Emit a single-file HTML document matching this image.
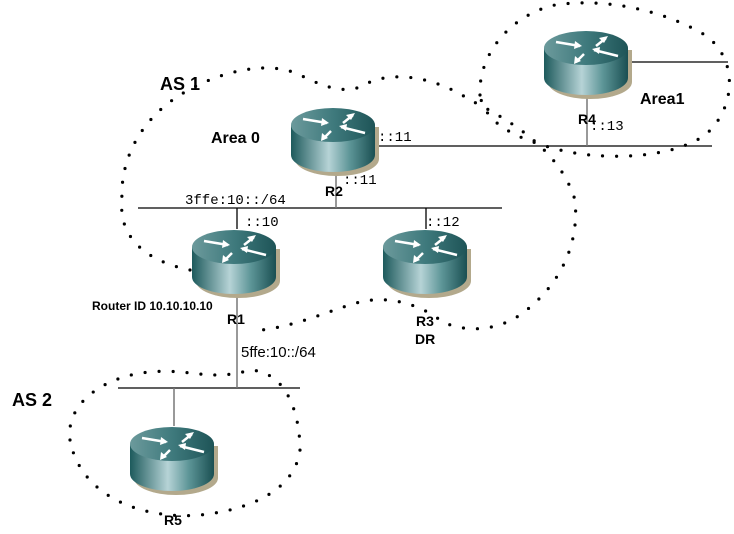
<!DOCTYPE html>
<html><head><meta charset="utf-8"><style>
body{margin:0;background:#fff;width:734px;height:534px;overflow:hidden}
svg{display:block}
.d{fill:none;stroke:#000;stroke-width:3.2;stroke-linecap:round;stroke-dasharray:0 14}
.m{font-family:"Liberation Mono",monospace;font-size:14px}
.b{font-family:"Liberation Sans",sans-serif;font-weight:bold}
</style></head><body>
<svg width="734" height="534" viewBox="0 0 734 534" xmlns="http://www.w3.org/2000/svg">
<defs>
<linearGradient id="bd" x1="0" x2="1" y1="0" y2="0">
<stop offset="0" stop-color="#1d5a5c"/><stop offset="0.45" stop-color="#b6d3d6"/><stop offset="0.7" stop-color="#5d9597"/><stop offset="1" stop-color="#1a4f52"/>
</linearGradient>
<linearGradient id="tp" x1="0" x2="1" y1="0" y2="0">
<stop offset="0" stop-color="#6c9a9c"/><stop offset="0.5" stop-color="#3f7a7d"/><stop offset="1" stop-color="#1e5457"/>
</linearGradient>
<g id="r">
<ellipse cx="46" cy="52" rx="42" ry="17" fill="#b3a98c"/>
<rect x="84" y="20" width="4" height="32" fill="#b3a98c"/>
<path d="M0 18 V48 A42 17 0 0 0 84 48 V18 Z" fill="url(#bd)"/>
<ellipse cx="42" cy="18" rx="42" ry="17" fill="url(#tp)"/>
<g stroke="#fff" stroke-width="2.5" fill="none">
<path d="M12 12 L36 16"/><path d="M52 16 L62 8"/><path d="M50 20 L74 26"/><path d="M32 32 L40 24"/>
</g>
<g fill="#fff"><path d="M38 16 L31 11 L30 19Z"/><path d="M64 6 L55 8 L60 13Z"/><path d="M48 19 L56 17 L55 24Z"/><path d="M30 34 L31 26 L37 31Z"/></g>
</g>
</defs>
<path class="d" d="M190 270 C150 262 118 240 122 200 C120 160 140 120 180 95 C220 70 270 60 300 75 C330 90 350 95 370 82 C400 70 440 80 470 100 C510 120 560 150 575 200 C580 250 555 290 520 315 C490 335 455 330 440 320 C420 305 390 295 360 302 C330 310 300 325 262 330"/>
<path class="d" d="M480 95 C478 55 510 15 555 5 C600 -2 660 8 705 35 C740 60 735 110 705 135 C670 160 600 160 560 150 C520 140 485 125 480 95"/>
<path class="d" d="M70 440 C65 400 110 375 150 372 C190 368 210 382 250 370 C290 372 300 420 300 450 C295 490 250 510 200 515 C140 520 80 495 70 440"/>
<g stroke="#000" stroke-width="1.3">
<line x1="375" y1="146" x2="712" y2="146"/>
<line x1="138" y1="208" x2="502" y2="208"/>
<line x1="118" y1="388" x2="300" y2="388"/>
<line x1="620" y1="62" x2="728" y2="62"/>
<line x1="426" y1="208" x2="426" y2="229"/>
<line x1="237" y1="208" x2="237" y2="229"/>
</g>
<g stroke="#777" stroke-width="1.5">
<line x1="336" y1="172" x2="336" y2="208"/>
<line x1="587" y1="96" x2="587" y2="146"/>
<line x1="237" y1="295" x2="237" y2="388"/>
<line x1="174" y1="388" x2="174" y2="426"/>
</g>
<use href="#r" x="291" y="107"/>
<use href="#r" x="192" y="229"/>
<use href="#r" x="383" y="229"/>
<use href="#r" x="544" y="30"/>
<use href="#r" x="130" y="426"/>
<text class="b" x="160" y="90" font-size="18">AS 1</text>
<text class="b" x="211" y="143" font-size="16">Area 0</text>
<text class="b" x="640" y="104" font-size="16">Area1</text>
<text class="b" x="12" y="406" font-size="18">AS 2</text>
<text class="b" x="325" y="196" font-size="14">R2</text>
<text class="b" x="578" y="124" font-size="14">R4</text>
<text class="b" x="227" y="324" font-size="14">R1</text>
<text class="b" x="416" y="326" font-size="14">R3</text>
<text class="b" x="415" y="344" font-size="14">DR</text>
<text class="b" x="164" y="525" font-size="14">R5</text>
<text class="b" x="92" y="310" font-size="12">Router ID 10.10.10.10</text>
<text class="m" x="378" y="141">::11</text>
<text class="m" x="343" y="184">::11</text>
<text class="m" x="185" y="204">3ffe:10::/64</text>
<text class="m" x="245" y="226">::10</text>
<text class="m" x="426" y="226">::12</text>
<text class="m" x="590" y="130">::13</text>
<text x="241" y="357" font-family="Liberation Sans,sans-serif" font-size="15">5ffe:10::/64</text>
</svg>
</body></html>
